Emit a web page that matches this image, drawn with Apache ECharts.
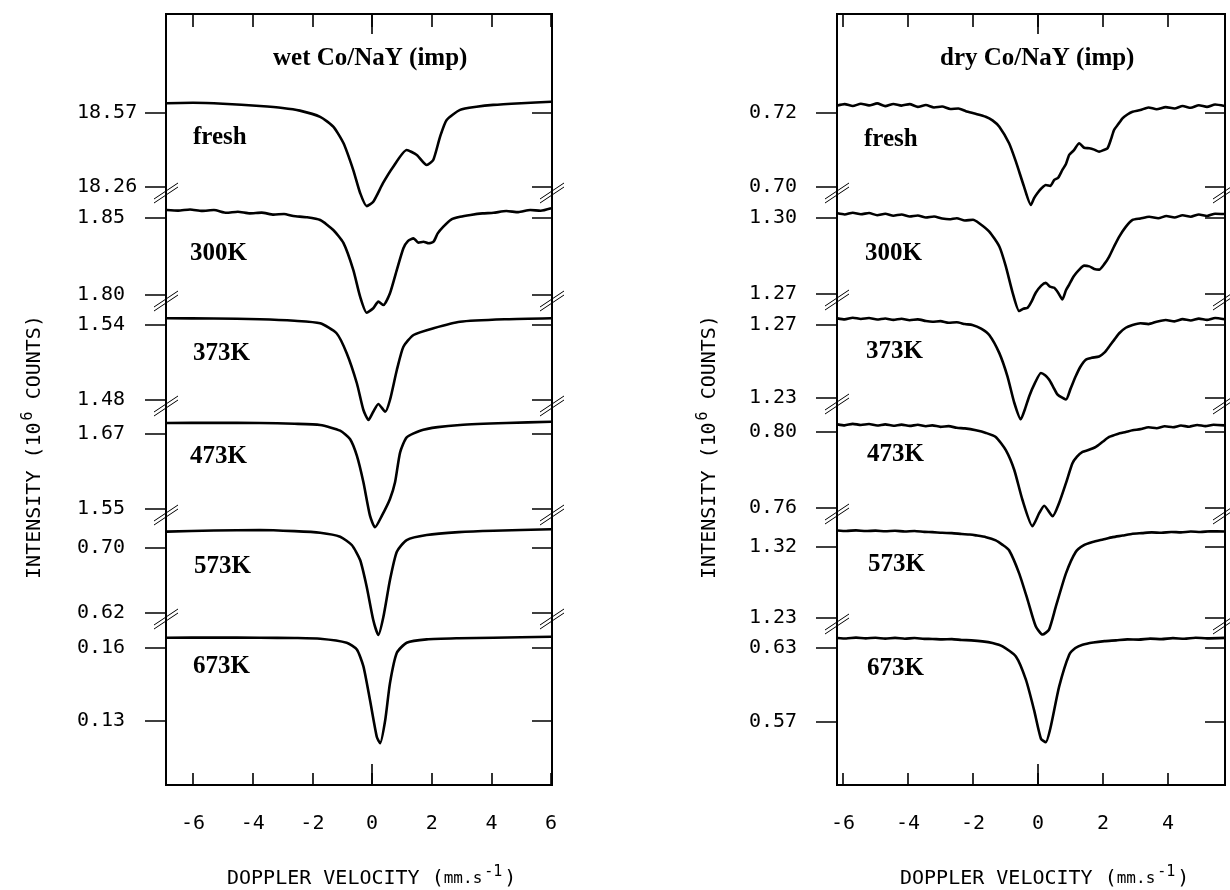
<!DOCTYPE html>
<html>
<head>
<meta charset="utf-8">
<script src="https://cdn.jsdelivr.net/npm/echarts@6/dist/echarts.min.js"></script>
<style>
html, body { margin: 0; background: #fff; }
#chart { width: 1230px; height: 890px; }
</style>
</head>
<body>
<div id="chart"></div>
<script>
// velocity ticks (mm/s) and sample names
const xTicks = [-6, -4, -2, 0, 2, 4, 6];
const sampleNames = ['fresh', '300K', '373K', '473K', '573K', '673K'];

// intensity tick pairs (upper, lower) for each spectrum, 10^6 counts
const wetTicks = [[18.57, 18.26], [1.85, 1.80], [1.54, 1.48], [1.67, 1.55], [0.70, 0.62], [0.16, 0.13]];
const dryTicks = [[0.72, 0.70], [1.30, 1.27], [1.27, 1.23], [0.80, 0.76], [1.32, 1.23], [0.63, 0.57]];

// wet Co/NaY (imp) spectra: [velocity, intensity]
const wetFresh = [[-6.88, 18.611], [-6.0, 18.613], [-5.0, 18.609], [-3.76, 18.599], [-3.0, 18.591], [-2.42, 18.580], [-1.74, 18.554], [-1.3, 18.513], [-0.96, 18.444], [-0.63, 18.331], [-0.4, 18.235], [-0.18, 18.180], [0.04, 18.198], [0.37, 18.277], [0.71, 18.345], [1.16, 18.415], [1.5, 18.394], [1.83, 18.352], [2.05, 18.373], [2.28, 18.471], [2.5, 18.541], [2.95, 18.583], [3.5, 18.596], [4.06, 18.604], [5.0, 18.611], [6.0, 18.617]];
const wet300 = [[-6.88, 1.8552], [-6.5, 1.8548], [-6.1, 1.8555], [-5.7, 1.8546], [-5.3, 1.8552], [-4.88, 1.8534], [-4.5, 1.8541], [-4.1, 1.8530], [-3.7, 1.8535], [-3.3, 1.8522], [-2.95, 1.8526], [-2.64, 1.8513], [-2.2, 1.8505], [-1.74, 1.8487], [-1.3, 1.8422], [-0.96, 1.8338], [-0.63, 1.8163], [-0.4, 1.7989], [-0.18, 1.7885], [0.04, 1.7914], [0.21, 1.7957], [0.38, 1.7935], [0.6, 1.8011], [0.83, 1.8163], [1.05, 1.8303], [1.2, 1.8350], [1.39, 1.8368], [1.55, 1.8340], [1.72, 1.8346], [1.9, 1.8336], [2.06, 1.8346], [2.2, 1.8400], [2.39, 1.8444], [2.65, 1.8490], [2.95, 1.8508], [3.3, 1.8520], [3.7, 1.8530], [4.07, 1.8534], [4.5, 1.8545], [4.9, 1.8538], [5.3, 1.8552], [5.65, 1.8547], [6.0, 1.8563]];
const wet373 = [[-6.88, 1.5454], [-5.3, 1.5452], [-3.76, 1.5446], [-2.6, 1.5434], [-1.74, 1.5414], [-1.19, 1.5334], [-0.85, 1.5174], [-0.51, 1.4934], [-0.29, 1.472], [-0.12, 1.464], [0.04, 1.4706], [0.21, 1.4768], [0.44, 1.4706], [0.6, 1.48], [0.83, 1.504], [1.05, 1.5226], [1.39, 1.532], [2.06, 1.5374], [2.95, 1.5426], [4.5, 1.5446], [6.0, 1.5454]];
const wet473 = [[-6.88, 1.6876], [-5.3, 1.6878], [-3.76, 1.6876], [-2.6, 1.6864], [-1.74, 1.6844], [-1.07, 1.6753], [-0.74, 1.662], [-0.51, 1.6353], [-0.29, 1.5927], [-0.07, 1.5393], [0.1, 1.5207], [0.33, 1.5393], [0.6, 1.566], [0.77, 1.5927], [0.94, 1.6407], [1.16, 1.6647], [1.61, 1.6753], [2.2, 1.6810], [2.95, 1.6844], [4.5, 1.6875], [6.0, 1.6897]];
const wet573 = [[-6.88, 0.7201], [-5.3, 0.7215], [-3.76, 0.7222], [-2.6, 0.7208], [-1.74, 0.7188], [-1.07, 0.7139], [-0.68, 0.7037], [-0.4, 0.6852], [-0.18, 0.6524], [0.04, 0.6114], [0.21, 0.5929], [0.38, 0.6154], [0.6, 0.6606], [0.83, 0.6954], [1.16, 0.7098], [1.83, 0.716], [2.9, 0.7195], [4.07, 0.7213], [6.0, 0.723]];
const wet673 = [[-6.88, 0.16423], [-5.3, 0.16430], [-3.76, 0.16423], [-2.6, 0.16410], [-1.74, 0.16382], [-0.85, 0.16216], [-0.51, 0.15938], [-0.29, 0.15245], [-0.07, 0.13863], [0.16, 0.1234], [0.27, 0.1209], [0.44, 0.13033], [0.6, 0.14556], [0.83, 0.15801], [1.16, 0.16216], [1.83, 0.16353], [2.9, 0.16400], [4.07, 0.16423], [6.0, 0.16465]];

// dry Co/NaY (imp) spectra
const dryFresh = [[-6.17, 0.72200], [-5.95, 0.72240], [-5.7, 0.72190], [-5.45, 0.72250], [-5.2, 0.72205], [-4.95, 0.72260], [-4.7, 0.72185], [-4.45, 0.72245], [-4.2, 0.72200], [-3.95, 0.72240], [-3.7, 0.72165], [-3.45, 0.72215], [-3.2, 0.72150], [-2.95, 0.72175], [-2.7, 0.72110], [-2.45, 0.72120], [-2.22, 0.72050], [-1.95, 0.71985], [-1.61, 0.71900], [-1.4, 0.71800], [-1.19, 0.7163], [-0.89, 0.71182], [-0.68, 0.70685], [-0.43, 0.7001], [-0.22, 0.69516], [-0.12, 0.69700], [-0.02, 0.69832], [0.1, 0.69960], [0.24, 0.70056], [0.38, 0.70030], [0.5, 0.70191], [0.62, 0.70250], [0.75, 0.70461], [0.86, 0.70620], [0.96, 0.70866], [1.1, 0.70990], [1.27, 0.71182], [1.42, 0.71060], [1.58, 0.71047], [1.73, 0.71010], [1.88, 0.70955], [2.02, 0.71000], [2.14, 0.71047], [2.25, 0.71300], [2.34, 0.71541], [2.47, 0.71700], [2.6, 0.71857], [2.75, 0.71960], [2.91, 0.72035], [3.15, 0.72080], [3.4, 0.72150], [3.65, 0.72100], [3.93, 0.72160], [4.2, 0.72120], [4.45, 0.72190], [4.7, 0.72140], [4.95, 0.72210], [5.2, 0.72165], [5.45, 0.72230], [5.74, 0.72190]];
const dry300 = [[-6.17, 1.30184], [-5.95, 1.30140], [-5.7, 1.30210], [-5.45, 1.30150], [-5.2, 1.30195], [-4.95, 1.30110], [-4.7, 1.30170], [-4.45, 1.30090], [-4.2, 1.30140], [-3.95, 1.30060], [-3.7, 1.30100], [-3.45, 1.30020], [-3.2, 1.30060], [-2.95, 1.29980], [-2.73, 1.29949], [-2.5, 1.29990], [-2.25, 1.29900], [-2.0, 1.29930], [-1.81, 1.29792], [-1.5, 1.29463], [-1.19, 1.28875], [-0.99, 1.2809], [-0.78, 1.27048], [-0.58, 1.26327], [-0.45, 1.26420], [-0.32, 1.2646], [-0.2, 1.26700], [-0.07, 1.27048], [0.1, 1.27330], [0.24, 1.2744], [0.37, 1.27290], [0.5, 1.27244], [0.62, 1.27050], [0.75, 1.26786], [0.86, 1.27150], [0.96, 1.27374], [1.1, 1.27700], [1.27, 1.27962], [1.42, 1.28120], [1.58, 1.2809], [1.73, 1.27990], [1.88, 1.27962], [2.05, 1.28200], [2.19, 1.2848], [2.35, 1.28900], [2.5, 1.29267], [2.7, 1.29650], [2.91, 1.29922], [3.15, 1.29980], [3.42, 1.30051], [3.7, 1.29990], [3.95, 1.30080], [4.2, 1.30020], [4.45, 1.30110], [4.7, 1.30050], [4.95, 1.30140], [5.2, 1.30080], [5.45, 1.30170], [5.74, 1.30157]];
const dry373 = [[-6.17, 1.27364], [-5.95, 1.27310], [-5.7, 1.27400], [-5.45, 1.27330], [-5.2, 1.27380], [-4.95, 1.27300], [-4.7, 1.27360], [-4.45, 1.27280], [-4.2, 1.27340], [-3.95, 1.27260], [-3.7, 1.27310], [-3.45, 1.27220], [-3.25, 1.2718], [-3.0, 1.27210], [-2.75, 1.27120], [-2.5, 1.27150], [-2.25, 1.27050], [-2.02, 1.27], [-1.75, 1.26800], [-1.5, 1.26456], [-1.19, 1.2546], [-0.94, 1.24188], [-0.73, 1.2274], [-0.53, 1.21832], [-0.4, 1.22400], [-0.27, 1.231], [-0.1, 1.23800], [0.09, 1.24372], [0.22, 1.24250], [0.34, 1.24008], [0.47, 1.23600], [0.6, 1.23192], [0.86, 1.2292], [1.0, 1.23500], [1.16, 1.24188], [1.3, 1.24700], [1.47, 1.251], [1.65, 1.25200], [1.88, 1.25276], [2.05, 1.25500], [2.19, 1.2582], [2.35, 1.26200], [2.5, 1.26548], [2.7, 1.26850], [2.91, 1.27], [3.15, 1.27100], [3.4, 1.27050], [3.65, 1.27180], [3.93, 1.27272], [4.2, 1.27200], [4.45, 1.27320], [4.7, 1.27250], [4.95, 1.27350], [5.2, 1.27280], [5.45, 1.27380], [5.74, 1.2731]];
const dry473 = [[-6.17, 0.80402], [-5.95, 0.80350], [-5.7, 0.80430], [-5.45, 0.80370], [-5.2, 0.80420], [-4.95, 0.80340], [-4.7, 0.80400], [-4.45, 0.80330], [-4.2, 0.80390], [-3.95, 0.80320], [-3.7, 0.80380], [-3.45, 0.80300], [-3.25, 0.8035], [-3.0, 0.80270], [-2.75, 0.80310], [-2.5, 0.80220], [-2.25, 0.80190], [-1.91, 0.80089], [-1.6, 0.79950], [-1.3, 0.79739], [-0.99, 0.79045], [-0.73, 0.78001], [-0.48, 0.76435], [-0.17, 0.75041], [0.04, 0.75741], [0.19, 0.76122], [0.45, 0.75563], [0.65, 0.76262], [0.86, 0.77306], [1.06, 0.7835], [1.2, 0.78700], [1.37, 0.78956], [1.55, 0.79050], [1.78, 0.79217], [2.0, 0.79500], [2.19, 0.79739], [2.45, 0.79900], [2.7, 0.80000], [2.91, 0.80089], [3.15, 0.80150], [3.4, 0.80250], [3.65, 0.80200], [3.9, 0.80300], [4.15, 0.80250], [4.4, 0.80340], [4.65, 0.80280], [4.9, 0.80370], [5.15, 0.80310], [5.4, 0.80380], [5.74, 0.8035]];
const dry573 = [[-6.17, 1.34100], [-5.9, 1.34030], [-5.6, 1.34110], [-5.3, 1.34020], [-5.0, 1.34080], [-4.7, 1.33990], [-4.4, 1.34060], [-4.1, 1.33970], [-3.8, 1.34030], [-3.5, 1.33920], [-3.25, 1.33886], [-2.95, 1.33800], [-2.65, 1.33760], [-2.35, 1.33650], [-2.1, 1.33580], [-1.91, 1.33471], [-1.6, 1.33250], [-1.3, 1.32842], [-1.1, 1.32300], [-0.89, 1.31585], [-0.58, 1.28656], [-0.32, 1.253], [-0.07, 1.21944], [0.14, 1.20901], [0.34, 1.21529], [0.55, 1.24458], [0.86, 1.28656], [1.16, 1.31372], [1.4, 1.32200], [1.68, 1.32628], [2.0, 1.32950], [2.3, 1.33250], [2.6, 1.33450], [2.91, 1.33684], [3.2, 1.33760], [3.5, 1.33850], [3.8, 1.33800], [4.1, 1.33910], [4.4, 1.33860], [4.7, 1.33960], [5.0, 1.33900], [5.3, 1.33990], [5.74, 1.33973]];
const dry673 = [[-6.17, 0.63817], [-5.9, 0.63770], [-5.6, 0.63840], [-5.3, 0.63780], [-5.0, 0.63830], [-4.7, 0.63760], [-4.4, 0.63820], [-4.1, 0.63750], [-3.8, 0.63810], [-3.5, 0.63740], [-3.25, 0.63735], [-2.95, 0.63700], [-2.65, 0.63720], [-2.35, 0.63650], [-2.05, 0.63620], [-1.71, 0.63539], [-1.4, 0.63400], [-1.09, 0.63131], [-0.68, 0.62314], [-0.37, 0.6041], [-0.12, 0.57959], [0.09, 0.55647], [0.24, 0.55369], [0.39, 0.56595], [0.65, 0.59863], [0.96, 0.62453], [1.15, 0.63000], [1.37, 0.6327], [1.7, 0.63450], [2.05, 0.63560], [2.4, 0.63621], [2.75, 0.63700], [3.1, 0.63680], [3.45, 0.63760], [3.8, 0.63720], [4.15, 0.63800], [4.5, 0.63750], [4.85, 0.63830], [5.2, 0.63780], [5.74, 0.63817]];

const mono = "'DejaVu Sans Mono', monospace";
const serif = "'Liberation Serif', 'Times New Roman', serif";

// layout of the two panels (pixels)
const panels = [
    {
        left: 166, right: 552, xMin: -6.906, xMax: 6.03,
        title: 'wet Co/NaY (imp)', titleX: 273,
        ticks: wetTicks, spectra: [wetFresh, wet300, wet373, wet473, wet573, wet673],
        rows: [[113, 187], [218, 295], [325, 400], [434, 509], [548, 613], [648, 721]],
        labels: [[193, 146], [190, 262], [193, 362], [190, 465], [194, 575], [193, 675]],
        labelMargin: 89, yNameX: 35, xNameX: 227
    },
    {
        left: 837, right: 1225, xMin: -6.185, xMax: 5.754,
        title: 'dry Co/NaY (imp)', titleX: 940,
        ticks: dryTicks, spectra: [dryFresh, dry300, dry373, dry473, dry573, dry673],
        rows: [[113, 187], [218, 294], [325, 398], [432, 508], [547, 618], [648, 722]],
        labels: [[864, 148], [865, 262], [866, 360], [867, 463], [868, 573], [867, 677]],
        labelMargin: 88, yNameX: 710, xNameX: 900
    }
];

const option = {
    animation: false,
    backgroundColor: '#fff',
    grid: [],
    xAxis: [],
    yAxis: [],
    series: [],
    graphic: []
};

const black = '#000';

panels.forEach(p => {
    const width = p.right - p.left;
    const frame = option.grid.length;
    option.grid.push({
        left: p.left, top: 14, width: width, height: 771,
        show: true, borderColor: black, borderWidth: 2, backgroundColor: 'transparent',
        containLabel: false, outerBoundsMode: 'none'
    });
    const xb = {
        gridIndex: frame, type: 'value', min: p.xMin, max: p.xMax,
        axisLine: {show: false, onZero: false}, splitLine: {show: false}
    };
    option.xAxis.push(Object.assign({}, xb, {
        position: 'bottom',
        axisTick: {inside: true, length: 12, customValues: xTicks, lineStyle: {color: black, width: 1.6}},
        axisLabel: {customValues: xTicks, margin: 29, color: black, fontFamily: mono, fontSize: 20}
    }));
    option.xAxis.push(Object.assign({}, xb, {
        position: 'bottom',
        axisTick: {inside: true, length: 21, customValues: [0], lineStyle: {color: black, width: 1.6}},
        axisLabel: {show: false}
    }));
    option.xAxis.push(Object.assign({}, xb, {
        position: 'top',
        axisTick: {inside: true, length: 13, customValues: xTicks, lineStyle: {color: black, width: 1.6}},
        axisLabel: {show: false}
    }));
    option.xAxis.push(Object.assign({}, xb, {
        position: 'top',
        axisTick: {inside: true, length: 20, customValues: [0], lineStyle: {color: black, width: 1.6}},
        axisLabel: {show: false}
    }));
    option.yAxis.push({gridIndex: frame, type: 'value', show: false});

    p.spectra.forEach((data, i) => {
        const [hi, lo] = p.ticks[i];
        const g = option.grid.length;
        option.grid.push({
            left: p.left, top: p.rows[i][0], width: width, height: p.rows[i][1] - p.rows[i][0],
            containLabel: false, outerBoundsMode: 'none'
        });
        const xi = option.xAxis.length;
        option.xAxis.push({gridIndex: g, type: 'value', min: p.xMin, max: p.xMax, show: false});
        const yi = option.yAxis.length;
        option.yAxis.push({
            gridIndex: g, type: 'value', position: 'left', min: lo, max: hi, interval: hi - lo,
            axisLine: {show: false, onZero: false}, splitLine: {show: false},
            axisTick: {inside: false, length: 21, customValues: [lo, hi], lineStyle: {color: black, width: 1.5}},
            axisLabel: {
                customValues: [lo, hi], align: 'left', margin: p.labelMargin,
                color: black, fontFamily: mono, fontSize: 20,
                formatter: v => v.toFixed(2)
            }
        });
        option.yAxis.push({
            gridIndex: g, type: 'value', position: 'right', min: lo, max: hi, interval: hi - lo,
            axisLine: {show: false, onZero: false}, splitLine: {show: false},
            axisTick: {inside: true, length: 20, customValues: [lo, hi], lineStyle: {color: black, width: 1.5}},
            axisLabel: {show: false}
        });
        option.series.push({
            type: 'line', name: sampleNames[i], xAxisIndex: xi, yAxisIndex: yi,
            data: data, showSymbol: false, clip: false, smooth: 0.2,
            lineStyle: {color: black, width: 2.6}
        });

        // sample label
        option.graphic.push({
            type: 'text', x: p.labels[i][0], y: p.labels[i][1] - 8,
            style: {text: sampleNames[i], fill: black, font: 'bold 25px ' + serif, align: 'left', verticalAlign: 'middle'}
        });

        // axis break marks below the lower tick
        if (i < p.spectra.length - 1) {
            const yb = p.rows[i][1] + 6;
            [p.left, p.right].forEach(xb2 => {
                [-2, 2].forEach(d => {
                    option.graphic.push({
                        type: 'line',
                        shape: {x1: xb2 - 12, y1: yb + 8 + d, x2: xb2 + 12, y2: yb - 8 + d},
                        style: {stroke: black, lineWidth: 1}
                    });
                });
            });
        }
    });

    // panel title
    option.graphic.push({
        type: 'text', x: p.titleX, y: 59,
        style: {text: p.title, fill: black, font: 'bold 25px ' + serif, align: 'left', verticalAlign: 'middle'}
    });
    // y axis name
    option.graphic.push({
        type: 'text', x: p.yNameX, y: 447, rotation: Math.PI / 2,
        style: {
            text: '{a|INTENSITY (10}{s|6}{a| COUNTS)}', align: 'center', verticalAlign: 'middle',
            rich: {
                a: {fill: black, fontFamily: mono, fontSize: 20},
                s: {fill: black, fontFamily: mono, fontSize: 15, padding: [0, 0, 14, 2]}
            }
        }
    });
    // x axis name
    option.graphic.push({
        type: 'text', x: p.xNameX, y: 879,
        style: {
            text: '{a|DOPPLER VELOCITY (}{b|mm.s}{s|-1}{a|)}', align: 'left', verticalAlign: 'middle',
            rich: {
                a: {fill: black, fontFamily: mono, fontSize: 20},
                b: {fill: black, fontFamily: mono, fontSize: 16},
                s: {fill: black, fontFamily: mono, fontSize: 15, padding: [0, 2, 14, 2]}
            }
        }
    });
});

const chart = echarts.init(document.getElementById('chart'));
chart.setOption(option);
</script>
</body>
</html>
